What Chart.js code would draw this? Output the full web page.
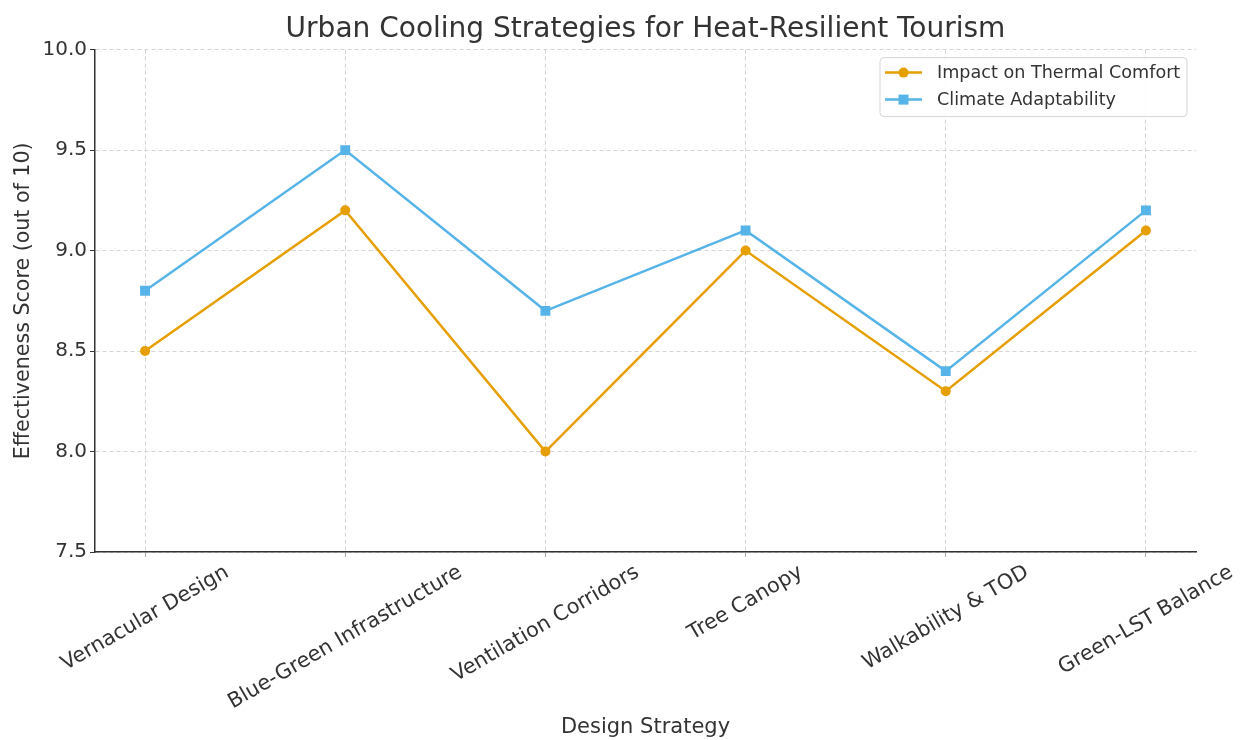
<!DOCTYPE html>
<html>
<head>
<meta charset="utf-8">
<script src="https://cdn.jsdelivr.net/npm/chart.js@4"></script>
<style>
  body { margin: 0; background: #fff; }
  #wrap { width: 1243px; height: 740px; }
</style>
</head>
<body>
<div id="wrap"><canvas id="myChart"></canvas></div>
<script>
const categories = ['Vernacular Design', 'Blue-Green Infrastructure', 'Ventilation Corridors',
                    'Tree Canopy', 'Walkability & TOD', 'Green-LST Balance'];
const thermalComfort = [8.5, 9.2, 8.0, 9.0, 8.3, 9.1];
const climateAdapt = [8.8, 9.5, 8.7, 9.1, 8.4, 9.2];
const yTicks = [7.5, 8.0, 8.5, 9.0, 9.5, 10.0];

const FONT = "'DejaVu Sans', sans-serif";
const TEXT = '#333333';

// category labels, rotated 30deg and centred on the tick (matplotlib style)
const xLabels = {
    id: 'xLabels',
    afterDraw(chart) {
        const ctx = chart.ctx;
        const xs = chart.scales.x;
        const ang = 30 * Math.PI / 180;
        const size = 20.8;
        ctx.save();
        ctx.font = size + 'px ' + FONT;
        ctx.fillStyle = TEXT;
        ctx.textAlign = 'center';
        ctx.textBaseline = 'middle';
        categories.forEach((lab, i) => {
            const w = ctx.measureText(lab).width;
            const h = size * 1.1;
            const bh = w * Math.sin(ang) + h * Math.cos(ang);
            const cx = xs.getPixelForValue(i);
            const cy = xs.top + 9 + bh / 2;
            ctx.save();
            ctx.translate(cx, cy);
            ctx.rotate(-ang);
            ctx.fillText(lab, 0, 0);
            ctx.restore();
        });
        ctx.restore();
    }
};

// legend box inside the plot, line + marker like matplotlib
const boxLegend = {
    id: 'boxLegend',
    afterDraw(chart) {
        const ctx = chart.ctx;
        const area = chart.chartArea;
        const w = 307, h = 59;
        const x0 = area.right - 9 - w, y0 = area.top + 8;
        ctx.save();
        ctx.beginPath();
        ctx.roundRect(x0, y0, w, h, 4);
        ctx.fillStyle = 'rgba(255,255,255,0.85)';
        ctx.fill();
        ctx.strokeStyle = '#d5d5d5';
        ctx.lineWidth = 1;
        ctx.stroke();
        chart.data.datasets.forEach((ds, i) => {
            const y = y0 + 15 + i * 27;
            ctx.strokeStyle = ds.borderColor;
            ctx.lineWidth = 2.5;
            ctx.beginPath();
            ctx.moveTo(x0 + 5, y);
            ctx.lineTo(x0 + 42, y);
            ctx.stroke();
            ctx.fillStyle = ds.borderColor;
            if (ds.pointStyle === 'rect') {
                ctx.fillRect(x0 + 18.5, y - 5, 10, 10);
            } else {
                ctx.beginPath();
                ctx.arc(x0 + 23.5, y, 5, 0, Math.PI * 2);
                ctx.fill();
            }
            ctx.fillStyle = TEXT;
            ctx.font = '17.6px ' + FONT;
            ctx.textBaseline = 'middle';
            ctx.fillText(ds.label, x0 + 57, y + 1);
        });
        ctx.restore();
    }
};

const ctx = document.getElementById('myChart');

new Chart(ctx, {
    type: 'line',
    data: {
        datasets: [{
            label: 'Impact on Thermal Comfort',
            data: thermalComfort.map((v, i) => ({ x: i, y: v })),
            borderColor: '#E69F00',
            backgroundColor: '#E69F00',
            borderWidth: 2.5,
            pointStyle: 'circle',
            pointRadius: 5,
            pointBorderWidth: 0,
            pointBackgroundColor: '#E69F00',
            tension: 0
        }, {
            label: 'Climate Adaptability',
            data: climateAdapt.map((v, i) => ({ x: i, y: v })),
            borderColor: '#56B4E9',
            backgroundColor: '#56B4E9',
            borderWidth: 2.5,
            pointStyle: 'rect',
            pointRadius: 7,
            pointBorderWidth: 0,
            pointBackgroundColor: '#56B4E9',
            tension: 0
        }]
    },
    options: {
        responsive: true,
        maintainAspectRatio: false,
        animation: false,
        layout: { padding: { left: 0, right: 47, top: 0, bottom: 0 } },
        scales: {
            x: {
                type: 'linear',
                min: -0.25,
                max: 5.25,
                afterFit: (scale) => { scale.height = 188; },
                ticks: {
                    stepSize: 1,
                    includeBounds: false,
                    callback: () => ''
                },
                grid: {
                    color: '#d4d4d4',
                    lineWidth: 1,
                    tickLength: 5,
                    tickColor: '#aaaaaa'
                },
                border: { color: '#333333', width: 1.5, dash: [4, 3] },
                title: {
                    display: true,
                    text: 'Design Strategy',
                    color: TEXT,
                    font: { family: FONT, size: 21 },
                    padding: { top: 0, bottom: 0 }
                }
            },
            y: {
                min: 7.5,
                max: 10,
                afterFit: (scale) => { scale.width = 95; },
                afterBuildTicks: (scale) => { scale.ticks = yTicks.map(v => ({ value: v })); },
                ticks: {
                    color: TEXT,
                    padding: 3,
                    font: { family: FONT, size: 20 },
                    callback: (v) => Number(v).toFixed(1)
                },
                grid: {
                    color: '#d4d4d4',
                    lineWidth: 1,
                    tickLength: 5,
                    tickColor: '#333333'
                },
                border: { color: '#333333', width: 1.5, dash: [4, 3] },
                title: {
                    display: true,
                    text: 'Effectiveness Score (out of 10)',
                    color: TEXT,
                    font: { family: FONT, size: 20.6 },
                    padding: { top: 11, bottom: 0 }
                }
            }
        },
        plugins: {
            legend: { display: false },
            tooltip: { enabled: false },
            title: {
                display: true,
                text: 'Urban Cooling Strategies for Heat-Resilient Tourism',
                fullSize: false,
                color: TEXT,
                font: { family: FONT, size: 28, weight: 'normal' },
                padding: { top: 13, bottom: 3 }
            }
        }
    },
    plugins: [xLabels, boxLegend]
});
</script>
</body>
</html>
